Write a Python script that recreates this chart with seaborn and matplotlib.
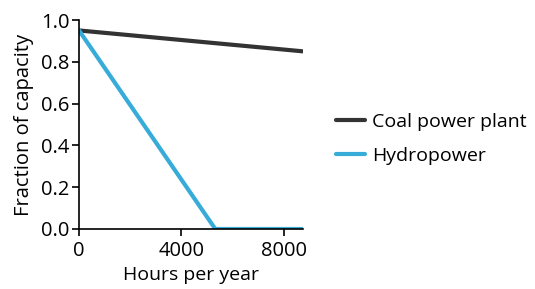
import matplotlib
matplotlib.use("Agg")
import matplotlib.pyplot as plt
import seaborn as sns
import pandas as pd

# data
coal_hours = [0, 8760]
coal = [0.95, 0.85]
hydro_hours = [0, 5330, 8760]
hydro = [0.95, 0.0, 0.0]
series_names = ["Coal power plant", "Hydropower"]
colors = ["#333333", "#38acd9"]

df = pd.DataFrame({
    "hours": coal_hours + hydro_hours,
    "frac": coal + hydro,
    "source": [series_names[0]] * len(coal) + [series_names[1]] * len(hydro),
})

sns.set_style("ticks")
plt.rcParams["font.family"] = ["Open Sans", "DejaVu Sans"]
plt.rcParams["text.color"] = "black"
plt.rcParams["axes.labelcolor"] = "black"
plt.rcParams["xtick.color"] = "black"
plt.rcParams["ytick.color"] = "black"

fig = plt.figure(figsize=(5.35, 2.89), dpi=100)
ax = fig.add_axes([79 / 535, 1 - 229 / 289, (303 - 79) / 535, (229 - 20) / 289])

sns.lineplot(data=df, x="hours", y="frac", hue="source", palette=colors,
             linewidth=3, ax=ax, legend=False)

ax.set_xlim(0, 8760)
ax.set_ylim(0, 1.0)
ax.set_xticks([0, 4000, 8000])
ax.set_yticks([0, 0.2, 0.4, 0.6, 0.8, 1.0])
ax.set_yticklabels(["0.0", "0.2", "0.4", "0.6", "0.8", "1.0"])
ax.set_xlabel("Hours per year", fontsize=14, labelpad=3)
ax.set_ylabel("Fraction of capacity", fontsize=14.5, labelpad=5)
ax.tick_params(labelsize=14.5, length=5, width=1.2)
ax.tick_params(axis="x", pad=4)
ax.tick_params(axis="y", pad=2)
for s in ["left", "bottom"]:
    ax.spines[s].set_linewidth(1.2)
    ax.spines[s].set_color("black")
sns.despine(ax=ax)

handles = [plt.Line2D([], [], color=c, linewidth=3) for c in colors]
fig.legend(handles, series_names, loc="center left", bbox_to_anchor=(318 / 535, 1 - 139 / 289),
           frameon=False, fontsize=14, handlelength=1.5, handletextpad=0.4, labelspacing=0.85)

fig.savefig("out.png", dpi=100)
